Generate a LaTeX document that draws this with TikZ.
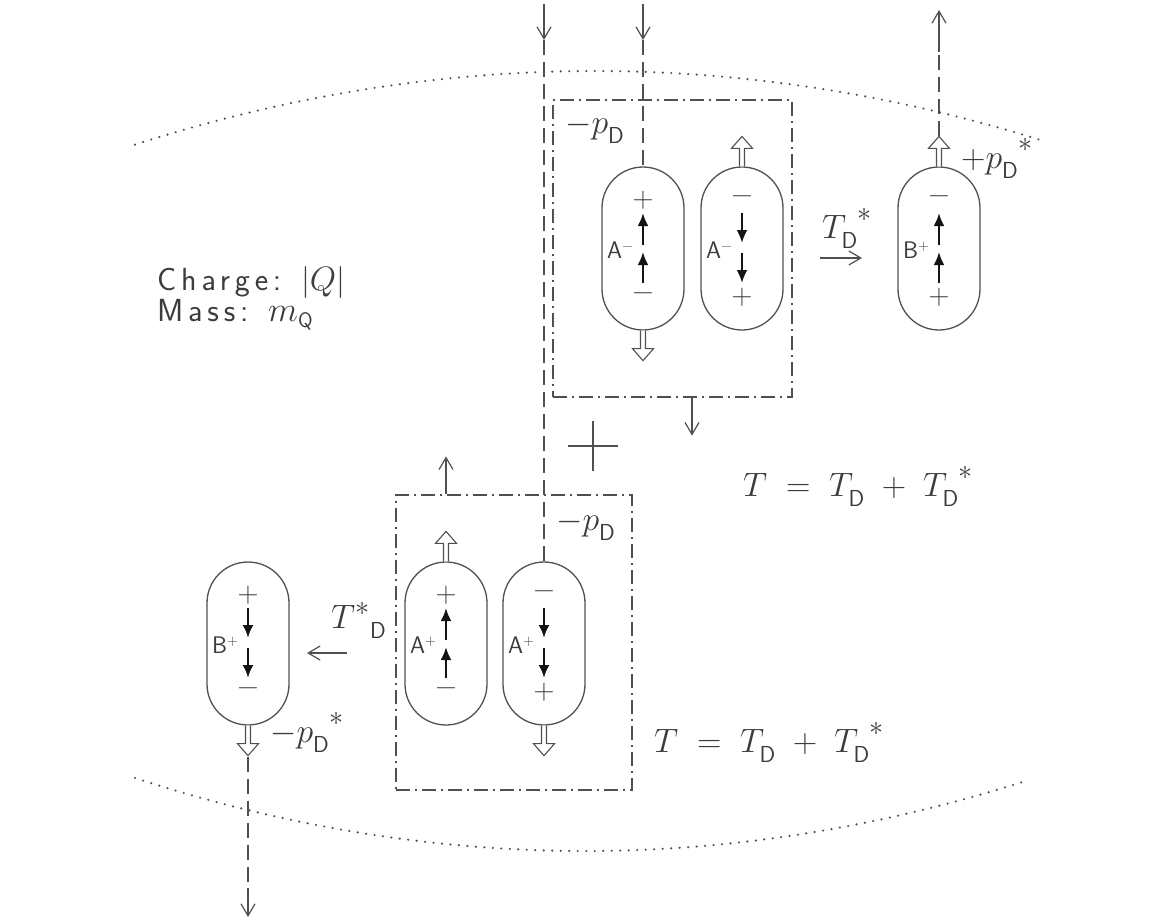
\documentclass[tikz,border=0pt]{standalone}
\usepackage{graphicx}
\usepackage{fontspec}
\newfontfamily\lsans{lmsans17-regular.otf}[LetterSpace=15]
\newfontfamily\lsansn{lmsans17-regular.otf}
\usetikzlibrary{arrows.meta,calc}
\definecolor{lc}{RGB}{80,80,80}
\definecolor{tc}{RGB}{60,60,60}
\definecolor{ac}{RGB}{20,20,20}
\newcommand\sD{_{\raisebox{-4pt}{\fontsize{17}{17}\selectfont\lsansn D}}}
\newcommand\st{^{\raisebox{3pt}{$\scriptstyle *$}}}
\newcommand\M[1]{\scalebox{1.36}{$#1$}}
\newcommand\supsign[1]{\raisebox{8pt}{\fontsize{15}{15}\selectfont\rmfamily #1}}
\newcommand\mycap[6]{%
  \node[capsule] (#1) at (#2,#3+81.5) {};
  \node[sign] at (#2,#3+33) {#5};
  \node[sign] at (#2,#3+130) {#6};
  \node[lab, anchor=base west] at (#2-36,#3+91) {#4};
}
\newcommand\spinsup[2]{%
  \draw[spin] (#1,#2+116) -- (#1,#2+85);
  \draw[spin] (#1,#2+78) -- (#1,#2+46);
}
\newcommand\spinsdown[2]{%
  \draw[spin] (#1,#2+46) -- (#1,#2+76);
  \draw[spin] (#1,#2+86) -- (#1,#2+116);
}
\begin{document}
\begin{tikzpicture}[x=1pt,y=-1pt,
  capsule/.style={draw=lc, line width=1.3pt, minimum width=82pt, minimum height=163pt, rounded corners=41pt, inner sep=0pt},
  ddbox/.style={draw=lc, line width=1.2pt, dash pattern=on 14pt off 5pt on 2pt off 5pt, inner sep=0pt},
  vdash/.style={draw=lc, line width=1.2pt, dash pattern=on 15pt off 7pt},
  arcdot/.style={draw=lc, line width=2.4pt, line cap=round, dash pattern=on 0pt off 8.5pt},
  barb/.style={draw=lc, line width=1.2pt, -{Straight Barb[length=12pt,width=14pt]}},
  spin/.style={draw=ac, line width=2.5pt, -{Latex[length=13pt,width=11pt]}},
  hol/.style={draw=lc, line width=1.1pt, fill=white},
  sign/.style={text=tc, font=\fontsize{29}{29}\selectfont\rmfamily, inner sep=0pt},
  lab/.style={text=tc, font=\fontsize{24}{24}\selectfont\lsansn, inner sep=0pt},
  mlab/.style={text=tc, font=\fontsize{24.88}{30}\selectfont, inner sep=0pt},
  txt/.style={text=tc, font=\fontsize{32}{34}\selectfont\lsans, inner sep=0pt},
  hollowdn/.pic={\draw[hol] (-2.5,0) -- (-2.5,18) -- (-10.5,18) -- (0,30) -- (10.5,18) -- (2.5,18) -- (2.5,0);},
  hollowup/.pic={\draw[hol] (-2.5,0) -- (-2.5,-18) -- (-10.5,-18) -- (0,-30) -- (10.5,-18) -- (2.5,-18) -- (2.5,0);},
]
\useasboundingbox (0,0) rectangle (1167,918);

% dotted arcs
\draw[arcdot] plot[domain=135:1039,samples=90] (\x,{71+72*((\x-595)/455)^2});
\draw[arcdot] plot[domain=135:1026,samples=90] (\x,{851-73*((\x-585)/450)^2});

% dash-dot boxes
\node[ddbox, minimum width=239pt, minimum height=297pt] (box1) at (672.5,248.5) {};
\node[ddbox, minimum width=236pt, minimum height=295pt] (box2) at (514,642.5) {};

% capsules
\mycap{cA1}{643}{167}{A\supsign{−}}{+}{−}
\spinsup{643}{167}
\mycap{cA2}{742}{167}{A\supsign{−}}{−}{+}
\spinsdown{742}{167}
\mycap{cB1}{939}{167}{B\supsign{+}}{−}{+}
\spinsup{939}{167}
\mycap{cA3}{446}{562}{A\supsign{+}}{+}{−}
\spinsup{446}{562}
\mycap{cA4}{544}{562}{A\supsign{+}}{−}{+}
\spinsdown{544}{562}
\mycap{cB2}{248}{562}{B\supsign{+}}{+}{−}
\spinsdown{248}{562}

% hollow arrows
\pic at (cA1.south) {hollowdn};
\pic at (cA2.north) {hollowup};
\pic at (cB1.north) {hollowup};
\pic at (cA3.north) {hollowup};
\pic at (cA4.south) {hollowdn};
\pic at (cB2.south) {hollowdn};

% incoming / outgoing lines
\coordinate (inA) at (544,4);  \coordinate (inAt) at (544,40);
\coordinate (inB) at (643,4);  \coordinate (inBt) at (643,40);
\draw[barb] (inA) -- (inAt);
\draw[vdash] (inAt) -- (cA4.north);
\draw[barb] (inB) -- (inBt);
\draw[vdash] (inBt) -- (cA1.north);
\coordinate (outC) at (939,10); \coordinate (outCb) at (939,52);
\draw[vdash] ($(cB1.north)+(0,-30)$) -- (outCb);
\draw[barb] (outCb) -- (outC);
\coordinate (outD) at (248,917); \coordinate (outDb) at (248,888);
\draw[vdash] ($(cB2.south)+(0,31)$) -- (outDb);
\draw[barb] (outDb) -- (outD);

% box arrows
\coordinate (b1s) at ($(box1.south)+(19.5,0)$);
\draw[barb] (b1s) -- ++(0,38);
\coordinate (b2n) at (cA3.north |- box2.north);
\draw[barb] (b2n) -- ++(0,-38);

% T arrows
\coordinate (ta1) at (820,258); \coordinate (ta2) at (862,258);
\draw[barb] (ta1) -- (ta2);
\coordinate (tb1) at (347,653); \coordinate (tb2) at (307,653);
\draw[barb] (tb1) -- (tb2);

% big plus
\draw[lc, line width=1.3pt] (568,446) -- (618,446) (593,421) -- (593,471);

% labels
\node[mlab, anchor=base west] (lp1) at (565,133) {\M{-p\sD}};
\node[mlab, anchor=base west] (lp2) at (961,168) {\M{+{p\sD}\st}};
\node[mlab, anchor=base west] (lT1) at (822,238) {\M{{T\sD}\st}};
\node[mlab, anchor=base west] (lT2) at (331,628) {\M{T^{*}{}\sD}};
\node[mlab, anchor=base west] (lp3) at (556,530) {\M{-p\sD}};
\node[mlab, anchor=base west] (lp4) at (270,742) {\M{-{p\sD}\st}};
\node[mlab, anchor=base west] (eq1) at (743,496) {\M{T \mkern5mu=\mkern5mu T\sD \mkern5mu+\mkern5mu {T\sD}\st}};
\node[mlab, anchor=base west] (eq2) at (654,752) {\M{T \mkern5mu=\mkern5mu T\sD \mkern5mu+\mkern5mu {T\sD}\st}};

\node[txt, anchor=base west] (ch) at (157,290) {Charge: |\scalebox{1.36}{$Q$}|};
\node[txt, anchor=base west] (ms) at (157,321) {Mass: \scalebox{1.4}{$m$}\raisebox{-6pt}{\fontsize{21}{21}\selectfont\lsansn Q}};
\end{tikzpicture}
\end{document}
